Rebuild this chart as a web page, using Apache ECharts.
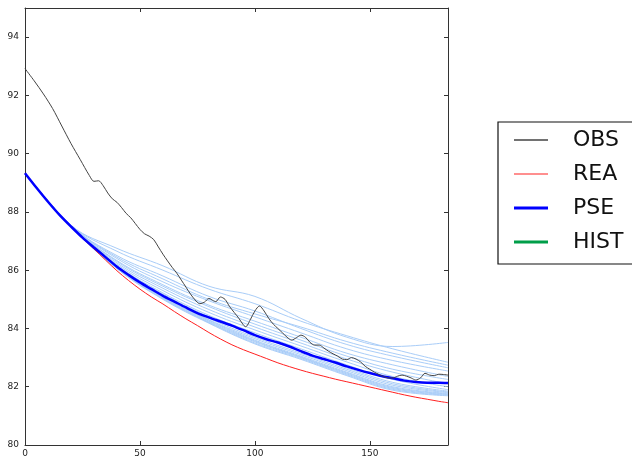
<!DOCTYPE html>
<html>
<head>
<meta charset="utf-8">
<script src="https://cdn.jsdelivr.net/npm/echarts@6/dist/echarts.min.js"></script>
<style>
html,body{margin:0;padding:0;background:#fff;}
#chart{width:632px;height:458px;}
</style>
</head>
<body>
<div id="chart"></div>
<script>
// ---- data ----
const xTickLabels = [0, 50, 100, 150];
const yTickLabels = [80, 82, 84, 86, 88, 90, 92, 94];
const legendNames = ['OBS', 'REA', 'PSE', 'HIST'];

const xObs = [0,4,8,12,16,20,24,28,30,32,34,36,38,40,42,44,46,48,50,52,54,56,58,60,62,64,66,68,70,72,74,76,78,80,82,83,85,87,89,91,93,95,96,98,100,102,104,106,108,110,112,114,116,118,120,122,124,126,128,130,132,134,136,138,140,142,144,146,148,150,152,154,156,158,160,162,164,166,168,170,172,174,176,178,180,182,184];
const obsVals = [92.92,92.5,92.05,91.55,90.95,90.35,89.8,89.25,89.05,89.07,88.9,88.65,88.45,88.33,88.15,87.95,87.8,87.6,87.4,87.25,87.17,87.05,86.8,86.55,86.32,86.1,85.9,85.66,85.42,85.18,84.98,84.85,84.9,85.03,84.95,84.92,85.08,85.0,84.75,84.55,84.35,84.12,84.06,84.3,84.6,84.77,84.6,84.35,84.15,84.0,83.85,83.7,83.6,83.68,83.77,83.7,83.52,83.43,83.43,83.33,83.22,83.13,83.05,82.95,82.93,83.0,82.95,82.85,82.7,82.6,82.5,82.42,82.35,82.3,82.3,82.36,82.4,82.36,82.3,82.23,82.3,82.46,82.4,82.38,82.43,82.42,82.4];

const x5 = [0,5,10,15,20,25,30,35,40,45,50,55,60,65,70,75,80,85,90,95,100,105,110,115,120,125,130,135,140,145,150,155,160,165,170,175,180,184];
const pseVals = [89.33,88.83,88.35,87.9,87.5,87.12,86.78,86.45,86.12,85.84,85.58,85.35,85.12,84.92,84.72,84.53,84.38,84.24,84.1,83.94,83.77,83.63,83.52,83.38,83.22,83.07,82.95,82.83,82.7,82.58,82.47,82.37,82.29,82.21,82.16,82.14,82.14,82.13];
const reaVals = [89.33,88.83,88.35,87.9,87.5,87.1,86.73,86.35,85.98,85.65,85.35,85.08,84.84,84.58,84.33,84.1,83.86,83.64,83.44,83.27,83.12,82.97,82.82,82.69,82.57,82.46,82.36,82.26,82.17,82.08,81.99,81.9,81.81,81.72,81.64,81.57,81.5,81.45];
const histVals = [];

const xEns = [0,20,40,60,80,100,120,140,160,184];
const ens01 = [89.33,87.54,86.75,86.15,85.45,85.1,84.35,83.7,83.38,83.52];
const ens02 = [89.33,87.54,86.65,86.0,85.35,84.85,84.25,83.75,83.3,82.84];
const ens03 = [89.33,87.53,86.5,85.8,85.1,84.6,84.0,83.45,83.05,82.65];
const ens04 = [89.33,87.53,86.4,85.6,84.95,84.4,83.85,83.3,82.9,82.54];
const ens05 = [89.33,87.52,86.33,85.5,84.8,84.25,83.7,83.15,82.75,82.35];
const ens06 = [89.33,87.52,86.25,85.38,84.65,84.05,83.5,82.95,82.5,82.1];
const ens07 = [89.33,87.51,86.2,85.3,84.55,83.95,83.4,82.85,82.35,82.0];
const ens08 = [89.33,87.51,86.16,85.22,84.45,83.85,83.3,82.75,82.25,81.9];
const ens09 = [89.33,87.5,86.14,85.18,84.4,83.78,83.22,82.65,82.15,81.85];
const ens10 = [89.33,87.5,86.12,85.14,84.35,83.7,83.15,82.6,82.1,81.82];
const ens11 = [89.33,87.5,86.1,85.1,84.3,83.65,83.1,82.55,82.05,81.8];
const ens12 = [89.33,87.5,86.09,85.08,84.28,83.6,83.05,82.5,82.0,81.77];
const ens13 = [89.33,87.5,86.08,85.06,84.25,83.57,83.02,82.47,81.97,81.75];
const ens14 = [89.33,87.5,86.07,85.04,84.22,83.54,83.0,82.44,81.94,81.73];
const ens15 = [89.33,87.5,86.06,85.02,84.2,83.5,82.97,82.41,81.91,81.71];
const ens16 = [89.33,87.5,86.05,85.0,84.18,83.47,82.94,82.38,81.88,81.69];
const ens17 = [89.33,87.52,86.3,85.45,84.75,84.15,83.6,83.05,82.6,82.25];
const ens18 = [89.33,87.53,86.45,85.7,85.0,84.5,84.05,83.55,83.15,82.74];
const ensembles = [ens01,ens02,ens03,ens04,ens05,ens06,ens07,ens08,ens09,ens10,ens11,ens12,ens13,ens14,ens15,ens16,ens17,ens18];

// ---- chart ----
const pair = (xs, ys) => ys.map((v, i) => [xs[i], v]);
const FONT = 'DejaVu Sans';
const FRAME = '#333';
// legend line icon: thin invisible rects set the 34x14 box, middle bar is the line
const lineIcon = (y0, y1) => 'path://M0,0H34V0.01H0Z M0,' + y0 + 'H34V' + y1 + 'H0Z M0,13.99H34V14H0Z';

const series = [];
ensembles.forEach((e, i) => {
  series.push({
    name: 'member' + (i + 1), type: 'line', data: pair(xEns, e),
    symbol: 'none', smooth: 0.4, silent: true, z: 1,
    lineStyle: { color: '#a9cdf8', width: 1 }
  });
});
series.push({ name: 'REA', type: 'line', data: pair(x5, reaVals), symbol: 'none', smooth: 0.3, z: 2,
  itemStyle: { color: '#ff2020' }, lineStyle: { color: '#ff2020', width: 1 } });
series.push({ name: 'PSE', type: 'line', data: pair(x5, pseVals), symbol: 'none', smooth: 0.3, z: 3,
  itemStyle: { color: '#0000ff' }, lineStyle: { color: '#0000ff', width: 2.5 } });
series.push({ name: 'HIST', type: 'line', data: histVals, symbol: 'none', z: 3,
  itemStyle: { color: '#009e49' }, lineStyle: { color: '#009e49', width: 3 } });
series.push({ name: 'OBS', type: 'line', data: pair(xObs, obsVals), symbol: 'none', smooth: 0.3, z: 4,
  itemStyle: { color: '#444' }, lineStyle: { color: '#444', width: 1 } });

const xBase = {
  type: 'value', min: 0, max: 184, interval: 50,
  axisLine: { show: true, onZero: false, lineStyle: { color: FRAME, width: 1 } },
  axisTick: { show: true, inside: true, length: 4, lineStyle: { color: FRAME } },
  splitLine: { show: false }
};
const yBase = {
  type: 'value', min: 80, max: 95, interval: 2,
  axisLine: { show: true, onZero: false, lineStyle: { color: FRAME, width: 1 } },
  axisTick: { show: true, inside: true, length: 4, lineStyle: { color: FRAME } },
  splitLine: { show: false }
};

const option = {
  animation: false,
  backgroundColor: '#fff',
  grid: { left: 25, top: 8, right: 184, bottom: 13, containLabel: false },
  xAxis: [
    Object.assign({}, xBase, { position: 'bottom',
      axisLabel: { show: true, fontFamily: FONT, fontSize: 9, color: '#222', margin: 4, showMaxLabel: false,
        formatter: v => xTickLabels.includes(v) ? String(v) : '' } }),
    Object.assign({}, xBase, { position: 'top', axisLabel: { show: false } })
  ],
  yAxis: [
    Object.assign({}, yBase, { position: 'left',
      axisLabel: { show: true, fontFamily: FONT, fontSize: 9, color: '#222', margin: 6, showMaxLabel: false,
        formatter: v => yTickLabels.includes(v) ? String(v) : '' } }),
    Object.assign({}, yBase, { position: 'right', axisLabel: { show: false } })
  ],
  legend: {
    data: [
      { name: legendNames[0], icon: lineIcon(6.2, 7.8) },
      { name: legendNames[1], icon: lineIcon(6.5, 7.5) },
      { name: legendNames[2], icon: lineIcon(5.5, 8.5) },
      { name: legendNames[3], icon: lineIcon(5.5, 8.5) }
    ],
    orient: 'vertical', left: 498, top: 122,
    itemWidth: 34, itemHeight: 14, itemGap: 12,
    padding: [7, 30, 11, 16],
    borderColor: '#111', borderWidth: 1.2, backgroundColor: '#fff',
    selectedMode: false,
    textStyle: { fontFamily: FONT, fontSize: 22, lineHeight: 22, color: '#111', padding: [0, 0, 0, 20] }
  },
  series: series
};

const chart = echarts.init(document.getElementById('chart'), null, { renderer: 'canvas' });
chart.setOption(option);
</script>
</body>
</html>
